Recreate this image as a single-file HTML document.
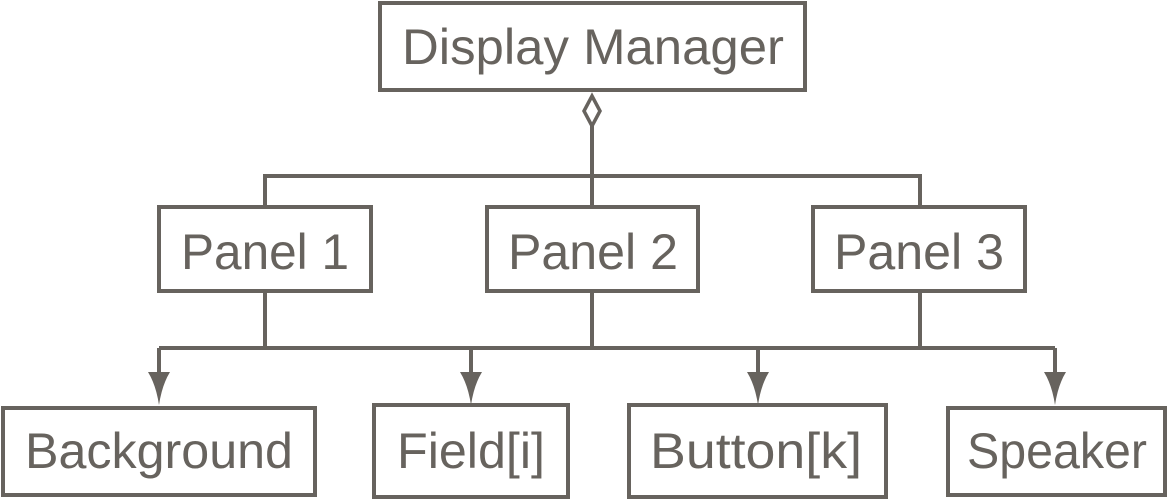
<!DOCTYPE html>
<html><head><meta charset="utf-8"><style>
html,body{margin:0;padding:0;background:#fff;}
svg{display:block;}
text{font-family:"Liberation Sans","DejaVu Sans",sans-serif;font-size:50px;fill:#67635e;text-anchor:middle;}
</style></head><body>
<svg width="1169" height="501" viewBox="0 0 1169 501">
<g fill="none" stroke="#67635e" stroke-width="4">
<rect x="380" y="3" width="425" height="87"/>
<rect x="159" y="207" width="212" height="84"/>
<rect x="487" y="207" width="211" height="84"/>
<rect x="813" y="207" width="212" height="84"/>
<rect x="3" y="408" width="312" height="87"/>
<rect x="374" y="405" width="194" height="92"/>
<rect x="629" y="405" width="257" height="92"/>
<rect x="948" y="408" width="217" height="87"/>
<path d="M592 96 L600 111 L592 126 L584 111 Z" stroke-width="3.5"/>
<path d="M592 126 V207 M265 207 V176 H920 V207"/>
<path d="M265 291 V348 M592 291 V348 M920 291 V348 M159 348 H1055"/>
<path d="M159 348 V372 M471 346 V372 M758 346 V372 M1055 348 V372"/>
</g>
<g fill="#67635e">
<path d="M148 372 L170 372 Q162 385 159 405 Q156 385 148 372Z"/>
<path d="M460 372 L482 372 Q474 385 471 405 Q468 385 460 372Z"/>
<path d="M747 372 L769 372 Q761 385 758 405 Q755 385 747 372Z"/>
<path d="M1044 372 L1066 372 Q1058 385 1055 405 Q1052 385 1044 372Z"/>
</g>
<text x="593" y="64" textLength="382" lengthAdjust="spacingAndGlyphs">Display Manager</text>
<text x="265" y="269" textLength="168" lengthAdjust="spacingAndGlyphs">Panel 1</text>
<text x="593" y="269" textLength="170" lengthAdjust="spacingAndGlyphs">Panel 2</text>
<text x="919" y="269" textLength="170" lengthAdjust="spacingAndGlyphs">Panel 3</text>
<text x="159" y="468" textLength="268" lengthAdjust="spacingAndGlyphs">Background</text>
<text x="471" y="468" textLength="148" lengthAdjust="spacingAndGlyphs">Field[i]</text>
<text x="756" y="468" textLength="212" lengthAdjust="spacingAndGlyphs">Button[k]</text>
<text x="1057" y="468" textLength="180" lengthAdjust="spacingAndGlyphs">Speaker</text>
</svg>
</body></html>
